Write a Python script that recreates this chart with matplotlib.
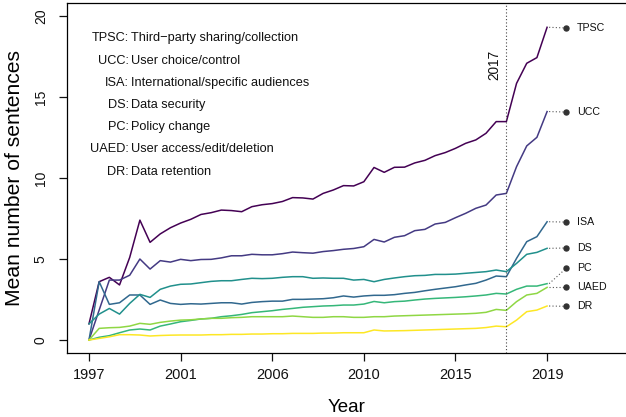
import numpy as np
import matplotlib
matplotlib.use("Agg")
import matplotlib.pyplot as plt
from matplotlib import font_manager

# ---------------- data ----------------
codes = ["TPSC", "UCC", "ISA", "DS", "PC", "UAED", "DR"]
descriptions = ["Third\u2212party sharing/collection", "User choice/control",
                "International/specific audiences", "Data security",
                "Policy change", "User access/edit/deletion", "Data retention"]
colors = ["#440154", "#443A83", "#31688E", "#21908C", "#35B779", "#8FD744", "#FDE725"]

tick_pos = [0, 9, 18, 27, 36, 45]
tick_labels = ["1997", "2001", "2006", "2010", "2015", "2019"]
marker_pos = 41
marker_label = "2017"

TPSC = [1.0, 3.6, 3.87, 3.4, 5.1, 7.4, 6.03, 6.55, 6.93, 7.22, 7.45, 7.75, 7.86, 8.02, 7.99, 7.92,
        8.23, 8.35, 8.42, 8.55, 8.79, 8.77, 8.70, 9.05, 9.26, 9.53, 9.51, 9.77, 10.65, 10.35, 10.66,
        10.67, 10.93, 11.09, 11.38, 11.57, 11.83, 12.14, 12.35, 12.76, 13.48, 13.48, 15.84, 17.08,
        17.43, 19.3]
UCC = [0.0, 1.85, 3.7, 3.7, 4.0, 5.0, 4.38, 4.9, 4.81, 4.98, 4.9, 4.97, 4.98, 5.07, 5.2, 5.2,
       5.29, 5.26, 5.26, 5.33, 5.43, 5.39, 5.36, 5.46, 5.52, 5.6, 5.65, 5.76, 6.21, 6.05, 6.34,
       6.44, 6.75, 6.83, 7.16, 7.26, 7.55, 7.82, 8.13, 8.33, 8.95, 9.05, 10.7, 11.98, 12.51, 14.1]
ISA = [0.0, 3.6, 2.2, 2.3, 2.78, 2.78, 2.2, 2.47, 2.26, 2.2, 2.24, 2.22, 2.26, 2.3, 2.3, 2.22,
       2.32, 2.37, 2.4, 2.4, 2.51, 2.51, 2.53, 2.55, 2.61, 2.72, 2.65, 2.72, 2.76, 2.76, 2.8,
       2.88, 2.94, 3.04, 3.13, 3.21, 3.29, 3.4, 3.5, 3.7, 3.95, 3.91, 5.04, 6.07, 6.38, 7.3]
DS = [1.0, 1.6, 1.95, 1.6, 2.26, 2.82, 2.63, 3.13, 3.33, 3.44, 3.46, 3.54, 3.62, 3.66, 3.66, 3.74,
      3.81, 3.79, 3.81, 3.87, 3.91, 3.91, 3.81, 3.83, 3.81, 3.81, 3.7, 3.74, 3.6, 3.74, 3.83,
      3.91, 3.97, 3.99, 4.05, 4.05, 4.07, 4.12, 4.17, 4.22, 4.32, 4.22, 4.73, 5.29, 5.41, 5.66]
PC = [0.0, 0.17, 0.27, 0.45, 0.62, 0.68, 0.62, 0.86, 0.99, 1.13, 1.21, 1.3, 1.34, 1.44, 1.5, 1.58,
      1.69, 1.75, 1.81, 1.89, 1.95, 2.02, 2.06, 2.1, 2.12, 2.16, 2.16, 2.22, 2.38, 2.3, 2.37,
      2.4, 2.47, 2.53, 2.57, 2.6, 2.63, 2.67, 2.72, 2.78, 2.88, 2.84, 3.13, 3.33, 3.33, 3.48]
UAED = [0.0, 0.72, 0.76, 0.78, 0.86, 1.03, 0.97, 1.09, 1.17, 1.23, 1.25, 1.3, 1.34, 1.34, 1.38, 1.4,
        1.44, 1.44, 1.44, 1.44, 1.48, 1.44, 1.4, 1.4, 1.44, 1.44, 1.4, 1.4, 1.44, 1.44, 1.48,
        1.5, 1.52, 1.54, 1.56, 1.58, 1.6, 1.62, 1.65, 1.71, 1.89, 1.83, 2.37, 2.78, 2.88, 3.25]
DR = [0.0, 0.1, 0.2, 0.33, 0.33, 0.31, 0.25, 0.28, 0.3, 0.31, 0.31, 0.31, 0.33, 0.33, 0.35, 0.35,
      0.37, 0.37, 0.39, 0.39, 0.41, 0.41, 0.41, 0.43, 0.43, 0.45, 0.45, 0.45, 0.62, 0.56, 0.57,
      0.58, 0.6, 0.62, 0.64, 0.66, 0.68, 0.7, 0.72, 0.77, 0.86, 0.82, 1.23, 1.75, 1.85, 2.1]
series = [TPSC, UCC, ISA, DS, PC, UAED, DR]
end_label_y = [19.26, 14.07, 7.28, 5.68, 4.42, 3.25, 2.08]

# ---------------- fonts ----------------
def has_font(name):
    try:
        font_manager.findfont(font_manager.FontProperties(family=name), fallback_to_default=False)
        return True
    except Exception:
        return False

REG = "Liberation Sans" if has_font("Liberation Sans") else "DejaVu Sans"
NARROW = "Liberation Sans Narrow" if has_font("Liberation Sans Narrow") else REG
plt.rcParams["font.family"] = REG

W, H = 626, 417
fig = plt.figure(figsize=(W / 100, H / 100), dpi=100)
left_px, right_px, top_px, bot_px = 67, 626, 3, 353
ax = fig.add_axes([left_px / W, (H - bot_px) / H, (right_px - left_px) / W, (bot_px - top_px) / H])

x = np.arange(len(TPSC))
for s, c in zip(series, colors):
    ax.plot(x, s, color=c, lw=1.1, solid_joinstyle="round")

# vertical marker
ax.axvline(marker_pos, color="#444444", lw=0.8, ls=(0, (1, 2)))
ax.text(marker_pos - 0.45, 17.0, marker_label, rotation=90, ha="right", va="center",
        fontsize=9.8, color="#111111")

# end labels
last = len(TPSC) - 1
dot_x = last + 1.86
for s, ly, code in zip(series, end_label_y, codes):
    ax.plot([last + 0.2, dot_x], [s[-1], ly], color="#555555", lw=0.8, ls=(0, (1, 2)))
    ax.plot(dot_x, ly, "o", color="#333333", ms=3.6, zorder=5)
    ax.text(dot_x + 1.05, ly, code, ha="left", va="center", fontsize=7.7, color="#111111")

# legend text block
leg_y0, leg_step = 18.62, 1.37
for k, (code, desc) in enumerate(zip(codes, descriptions)):
    yy = leg_y0 - k * leg_step
    ax.text(3.9, yy, code + ":", ha="right", va="center", fontsize=9.2, color="#111111")
    ax.text(4.17, yy, desc, ha="left", va="center", fontsize=9.2, color="#111111")

ax.set_xlim(-2.16, -2.16 + (right_px - left_px) / 10.18)
ax.set_ylim(-0.8, 20.8)
ax.spines["right"].set_visible(False)
for sp in ["left", "bottom", "top"]:
    ax.spines[sp].set_linewidth(0.9)

ax.set_xticks(tick_pos)
ax.set_xticklabels(tick_labels, fontfamily=NARROW, fontsize=10.5)
ax.set_yticks([0, 5, 10, 15, 20])
ax.set_yticklabels(["0", "5", "10", "15", "20"], rotation=90, va="center", fontsize=10)
ax.tick_params(axis="both", direction="out", length=5.8, width=0.9, colors="#111111")
ax.tick_params(axis="x", pad=5)
ax.tick_params(axis="y", pad=8)

ax.set_xlabel("Year", fontfamily=NARROW, fontsize=13.5, labelpad=12)
ax.set_ylabel("Mean number of sentences", fontsize=15.2, labelpad=7)

fig.savefig("out.png", dpi=100)
